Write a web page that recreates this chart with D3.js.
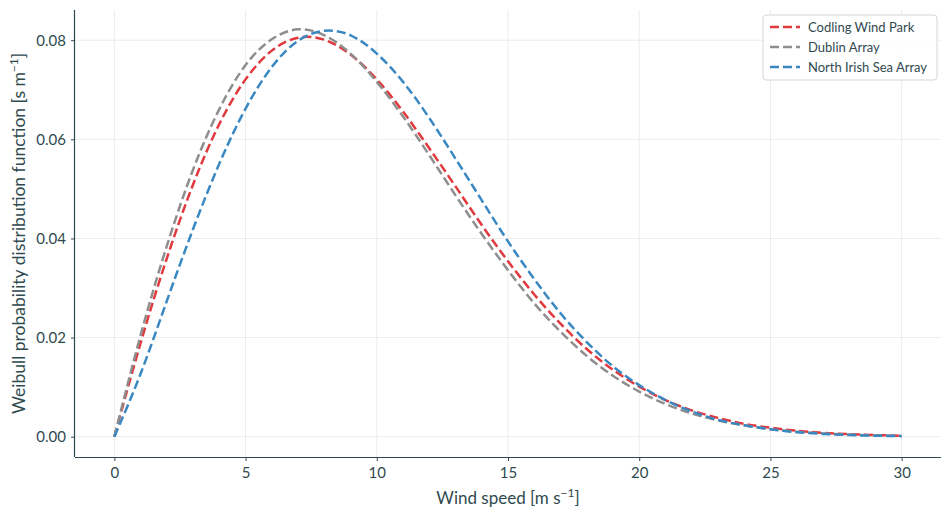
<!DOCTYPE html>
<html><head><meta charset="utf-8">
<script src="https://cdn.jsdelivr.net/npm/d3@7"></script>
<style>body{margin:0;background:#fff}svg{display:block}</style>
</head><body>
<svg id="chart" width="950" height="518"></svg>
<script>
const windSpeed = d3.range(0, 31); // 0..30 m/s
const seriesNames = ["Codling Wind Park", "Dublin Array", "North Irish Sea Array"];
const codling = [0, 0.0189, 0.0360, 0.0509, 0.0631, 0.0721, 0.0779, 0.0805, 0.0801, 0.0771, 0.0721,
  0.0656, 0.0582, 0.0505, 0.0427, 0.0354, 0.0287, 0.0228, 0.0177, 0.0135, 0.0101,
  0.0074, 0.0053, 0.0038, 0.0026, 0.0018, 0.0012, 0.00078, 0.00050, 0.00032, 0.00020];
const dublin = [0, 0.0205, 0.0385, 0.0539, 0.0661, 0.0750, 0.0802, 0.0822, 0.0810, 0.0773, 0.0716,
  0.0646, 0.0568, 0.0487, 0.0409, 0.0336, 0.0269, 0.0212, 0.0163, 0.0123, 0.0091,
  0.0066, 0.0047, 0.0033, 0.0023, 0.0015, 0.0010, 0.00066, 0.00042, 0.00026, 0.00016];
const northIrish = [0, 0.0127, 0.0274, 0.0419, 0.0551, 0.0662, 0.0746, 0.0799, 0.0819, 0.0810, 0.0773,
  0.0716, 0.0643, 0.0561, 0.0477, 0.0394, 0.0318, 0.0249, 0.0191, 0.0142, 0.0104,
  0.0074, 0.0051, 0.0034, 0.0023, 0.0015, 0.00091, 0.00056, 0.00033, 0.00019, 0.00011];
const xTicks = [0, 5, 10, 15, 20, 25, 30];
const yTicks = [0, 0.02, 0.04, 0.06, 0.08];
const colors = ["#e0393e", "#8e8e8e", "#3a88c2"];
const seriesValues = [codling, dublin, northIrish];

const svg = d3.select("#chart");
const font = "Lato, 'Source Sans Pro', sans-serif";
const textColor = "#2f4a4f";
const L = 75, R = 941, T = 10, B = 457;

const x = d3.scaleLinear().domain([-1.5, 31.5]).range([L, R]);
const y = d3.scaleLinear().domain([-0.0041, 0.0861]).range([B, T]);

// grid
const grid = svg.append("g");
grid.selectAll("line.gx").data(xTicks).join("line")
  .attr("x1", d => x(d)).attr("x2", d => x(d)).attr("y1", T).attr("y2", B)
  .attr("stroke", "#ececec").attr("stroke-width", 1);
grid.selectAll("line.gy").data(yTicks).join("line")
  .attr("y1", d => y(d)).attr("y2", d => y(d)).attr("x1", L).attr("x2", R)
  .attr("stroke", "#ececec").attr("stroke-width", 1);

// axes
const xAxis = svg.append("g").attr("transform", `translate(0,${B})`)
  .call(d3.axisBottom(x).tickValues(xTicks).tickFormat(d3.format("d")).tickSizeOuter(0).tickSize(4).tickPadding(6));
const yAxis = svg.append("g").attr("transform", `translate(${L},0)`)
  .call(d3.axisLeft(y).tickValues(yTicks).tickFormat(d3.format(".2f")).tickSizeOuter(0).tickSize(4).tickPadding(5));
[xAxis, yAxis].forEach(a => {
  a.select(".domain").attr("stroke", textColor).attr("stroke-width", 1.2);
  a.selectAll(".tick line").attr("stroke", textColor);
  a.selectAll(".tick text").attr("fill", textColor).style("font-family", font).style("font-size", "15px");
});
xAxis.select(".domain").attr("d", `M${L},0.5H${R}`);
yAxis.select(".domain").attr("d", `M-0.5,${B}V${T}`);

// lines
const line = d3.line().x((d, i) => x(windSpeed[i])).y(d => y(d)).curve(d3.curveNatural);
seriesValues.forEach((vals, i) => {
  svg.append("path").datum(vals).attr("d", line)
    .attr("fill", "none").attr("stroke", colors[i]).attr("stroke-width", 2.5)
    .attr("stroke-dasharray", "9,4");
});

// axis labels
const xl = svg.append("text").attr("x", (L + R) / 2).attr("y", 504).attr("text-anchor", "middle")
  .attr("fill", textColor).style("font-family", font).style("font-size", "17px");
xl.append("tspan").text("Wind speed [m s");
xl.append("tspan").text("\u22121").attr("dy", -7).style("font-size", "12px");
xl.append("tspan").text("]").attr("dy", 7);

const yl = svg.append("text").attr("transform", `translate(25,${(T + B) / 2}) rotate(-90)`).attr("text-anchor", "middle")
  .attr("fill", textColor).style("font-family", font).style("font-size", "17.5px");
yl.append("tspan").text("Weibull probability distribution function [s m");
yl.append("tspan").text("\u22121").attr("dy", -7).style("font-size", "12px");
yl.append("tspan").text("]").attr("dy", 7);

// legend
const lg = svg.append("g").attr("transform", "translate(763,15)");
lg.append("rect").attr("width", 174).attr("height", 65).attr("rx", 3)
  .attr("fill", "#fff").attr("fill-opacity", 0.85).attr("stroke", "#d6d6d6");
seriesNames.forEach((n, i) => {
  const gy = 12 + i * 20;
  lg.append("line").attr("x1", 7).attr("x2", 37).attr("y1", gy).attr("y2", gy)
    .attr("stroke", colors[i]).attr("stroke-width", 2.5).attr("stroke-dasharray", "9,4");
  lg.append("text").attr("x", 45).attr("y", gy + 4.5).text(n)
    .attr("fill", textColor).style("font-family", font).style("font-size", "13px");
});
</script>
</body></html>
